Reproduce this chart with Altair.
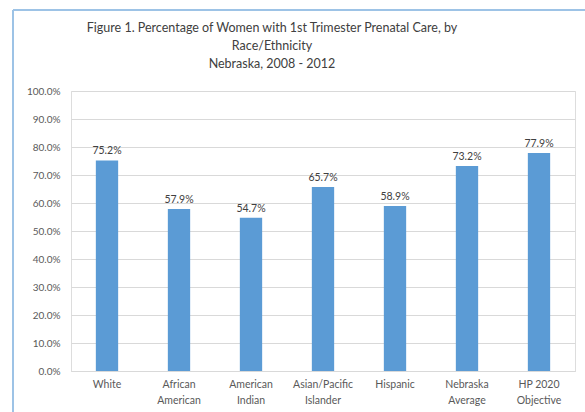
import altair as alt
import pandas as pd

categories = ["White", "African|American", "American|Indian", "Asian/Pacific|Islander",
              "Hispanic", "Nebraska|Average", "HP 2020|Objective"]
values = [75.2, 57.9, 54.7, 65.7, 58.9, 73.2, 77.9]
y_ticks = [0, 10, 20, 30, 40, 50, 60, 70, 80, 90, 100]
title_lines = ["Figure 1. Percentage of Women with 1st Trimester Prenatal Care, by",
               "Race/Ethnicity", "Nebraska, 2008 - 2012"]

df = pd.DataFrame({"cat": categories, "val": values})
df["lab"] = df["val"].map(lambda v: f"{v:.1f}%")

FONT = "Lato"
W, H = 504, 280

x = alt.X("cat:N", sort=categories, title=None,
          scale=alt.Scale(paddingInner=0.69, paddingOuter=0.345),
          axis=alt.Axis(labelAngle=0, labelExpr="split(datum.label, '|')",
                        labelFont=FONT, labelFontSize=10.5, labelColor="#595959",
                        labelPadding=8, labelLineHeight=16, ticks=False,
                        domainColor="#d9d9d9", domainWidth=1))
y = alt.Y("val:Q", title=None,
          scale=alt.Scale(domain=[0, 100], nice=False),
          axis=alt.Axis(values=y_ticks, labelExpr="format(datum.value, '.1f') + '%'",
                        labelFont=FONT, labelFontSize=10, labelColor="#595959",
                        labelPadding=11, ticks=False, domain=False,
                        gridColor="#d9d9d9", gridWidth=1))

bars = alt.Chart(df).mark_bar(color="#5b9bd5").encode(x=x, y=y)
text = alt.Chart(df).mark_text(baseline="bottom", dy=-4, font=FONT, fontSize=10.5,
                               color="#404040").encode(x=x, y=y, text="lab:N")

frame_left = alt.Chart(df).mark_rule(color="#9dc3e6", strokeWidth=2).encode(
    x=alt.value(-58), y=alt.value(-81), y2=alt.value(H + 60))
frame_top = alt.Chart(df).mark_rule(color="#9dc3e6", strokeWidth=2).encode(
    x=alt.value(-58), x2=alt.value(W + 30), y=alt.value(-81))

title = alt.Chart(df.head(1)).mark_text(
    font=FONT, fontSize=12.5, color="#404040", align="center", baseline="middle",
    lineHeight=18).encode(x=alt.value(201), y=alt.value(-63), text=alt.value(title_lines))

chart = alt.layer(frame_left, frame_top, bars, text, title).properties(
    width=W, height=H,
    padding={"left": 71, "top": 91, "right": 10, "bottom": 41},
    autosize=alt.AutoSizeParams(type="none"),
).configure_view(stroke=None).configure(background="white")

chart.save("out.html", embed_options={"renderer": "svg", "actions": False})
